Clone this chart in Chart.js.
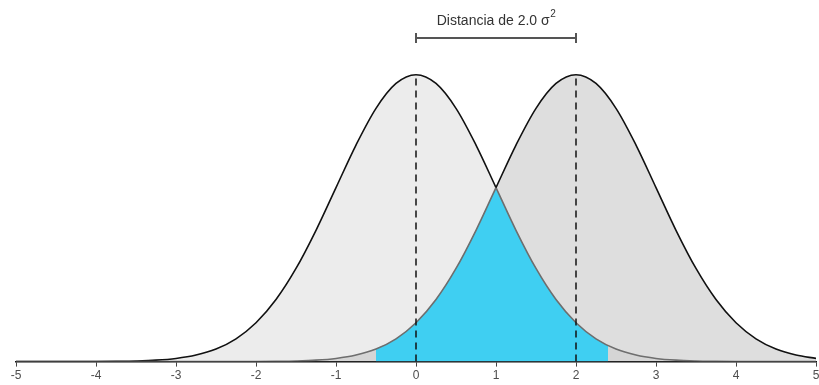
<!DOCTYPE html>
<html>
<head>
<meta charset="utf-8">
<script src="https://cdn.jsdelivr.net/npm/chart.js@4"></script>
<style>
  html, body { margin: 0; padding: 0; background: #fff; }
  #wrap { width: 819px; height: 385px; position: relative; }
</style>
</head>
<body>
<div id="wrap"><canvas id="chart"></canvas></div>
<script>
// x positions of the sampled curves
const xValues = [-5, -4.75, -4.5, -4.25, -4, -3.75, -3.5, -3.25, -3, -2.75, -2.5, -2.25, -2, -1.75, -1.5, -1.25, -1, -0.75, -0.5, -0.25,
  0, 0.25, 0.5, 0.75, 1, 1.25, 1.5, 1.75, 2, 2.25, 2.5, 2.75, 3, 3.25, 3.5, 3.75, 4, 4.25, 4.5, 4.75, 5];
// density of the curve centred at 0
const densityA = [0, 0, 0, 0, 0.0001, 0.0004, 0.0009, 0.0020, 0.0044, 0.0091, 0.0175, 0.0317, 0.0540, 0.0863, 0.1295, 0.1826, 0.2420, 0.3011, 0.3521, 0.3867,
  0.3989, 0.3867, 0.3521, 0.3011, 0.2420, 0.1826, 0.1295, 0.0863, 0.0540, 0.0317, 0.0175, 0.0091, 0.0044, 0.0020, 0.0009, 0.0004, 0.0001, 0, 0, 0, 0];
// density of the curve centred at 2
const densityB = [0, 0, 0, 0, 0, 0, 0, 0, 0, 0, 0, 0, 0.0001, 0.0004, 0.0009, 0.0020, 0.0044, 0.0091, 0.0175, 0.0317,
  0.0540, 0.0863, 0.1295, 0.1826, 0.2420, 0.3011, 0.3521, 0.3867, 0.3989, 0.3867, 0.3521, 0.3011, 0.2420, 0.1826, 0.1295, 0.0863, 0.0540, 0.0317, 0.0175, 0.0091, 0.0044];
// shaded overlap (blue) split at the crossing point
const overlapLeftX = [-0.5, -0.25, 0, 0.25, 0.5, 0.75, 1];
const overlapLeftY = [0.0175, 0.0317, 0.0540, 0.0863, 0.1295, 0.1826, 0.2420];
const overlapRightX = [1, 1.25, 1.5, 1.75, 2, 2.25, 2.4];
const overlapRightY = [0.2420, 0.1826, 0.1295, 0.0863, 0.0540, 0.0317, 0.0224];
// means and peak height
const means = [0, 2];
const peakHeight = 0.3989;
const crossing = 1;
const tickValues = [-5, -4, -3, -2, -1, 0, 1, 2, 3, 4, 5];
const distanceLabel = 'Distancia de 2.0 \u03c3';

const BLACK = '#111111';
const GREY_LINE = '#6e6e6e';
const BLUE = '#3fcff2';

function pts(xs, ys){ return xs.map((x, i) => ({x: x, y: ys[i]})); }

const curveA = pts(xValues, densityA);
const curveB = pts(xValues, densityB);

const smooth = { cubicInterpolationMode: 'monotone', pointRadius: 0, tension: 0.4 };

// bracket + title above the two means
const bracketPlugin = {
  id: 'bracket',
  afterDraw(chart){
    const ctx = chart.ctx;
    const xs = chart.scales.x;
    const x0 = xs.getPixelForValue(means[0]);
    const x1 = xs.getPixelForValue(means[1]);
    const y = 38;
    ctx.save();
    ctx.strokeStyle = '#555';
    ctx.lineWidth = 2;
    ctx.beginPath();
    ctx.moveTo(x0, y); ctx.lineTo(x1, y);
    ctx.moveTo(x0, y - 5); ctx.lineTo(x0, y + 5);
    ctx.moveTo(x1, y - 5); ctx.lineTo(x1, y + 5);
    ctx.stroke();

    ctx.fillStyle = '#333';
    ctx.font = '14px "Liberation Sans", Arial, sans-serif';
    ctx.textBaseline = 'alphabetic';
    const mainW = ctx.measureText(distanceLabel).width;
    ctx.font = '10px "Liberation Sans", Arial, sans-serif';
    const supW = ctx.measureText('2').width;
    const start = (x0 + x1) / 2 - (mainW + supW) / 2;
    ctx.font = '14px "Liberation Sans", Arial, sans-serif';
    ctx.textAlign = 'left';
    ctx.fillText(distanceLabel, start, 25);
    ctx.font = '10px "Liberation Sans", Arial, sans-serif';
    ctx.fillText('2', start + mainW + 0.5, 17);
    ctx.restore();
  }
};

new Chart(document.getElementById('chart'), {
  type: 'line',
  data: {
    datasets: [
      { data: curveA, fill: 'origin', backgroundColor: 'rgba(200,200,200,0.35)', borderWidth: 0, order: 10, ...smooth },
      { data: curveB, fill: 'origin', backgroundColor: 'rgba(190,190,190,0.5)', borderWidth: 0, order: 9, ...smooth },
      { data: pts(overlapLeftX, overlapLeftY), fill: 'origin', backgroundColor: BLUE, borderWidth: 0, order: 8, ...smooth },
      { data: pts(overlapRightX, overlapRightY), fill: 'origin', backgroundColor: BLUE, borderWidth: 0, order: 8, ...smooth },
      { data: curveA, fill: false, borderWidth: 1.6, borderColor: BLACK, order: 5, ...smooth,
        segment: { borderColor: c => c.p0.parsed.x >= crossing ? GREY_LINE : BLACK } },
      { data: curveB, fill: false, borderWidth: 1.6, borderColor: BLACK, order: 4, ...smooth,
        segment: { borderColor: c => c.p1.parsed.x <= crossing ? GREY_LINE : BLACK } },
      { data: [{x: means[0], y: 0}, {x: means[0], y: peakHeight}], fill: false, borderColor: BLACK, borderWidth: 1.5,
        borderDash: [7, 5], pointRadius: 0, order: 1 },
      { data: [{x: means[1], y: 0}, {x: means[1], y: peakHeight}], fill: false, borderColor: BLACK, borderWidth: 1.5,
        borderDash: [7, 5], pointRadius: 0, order: 1 }
    ]
  },
  options: {
    responsive: true,
    maintainAspectRatio: false,
    animation: false,
    layout: { padding: { left: 16, right: 3, top: 2, bottom: 0 } },
    plugins: { legend: { display: false }, tooltip: { enabled: false } },
    scales: {
      x: {
        type: 'linear',
        min: -5,
        max: 5,
        afterBuildTicks: s => { s.ticks = tickValues.map(v => ({value: v})); },
        afterFit: s => { s.paddingLeft = 0; s.paddingRight = 0; },
        grid: { display: true, drawOnChartArea: false, drawTicks: true, tickLength: 5, color: '#444', lineWidth: 1 },
        border: { display: true, color: '#111', width: 1.5 },
        ticks: { color: '#4d4d4d', font: { family: '"Liberation Sans", Arial, sans-serif', size: 12 }, padding: 2, maxRotation: 0 }
      },
      y: { display: false, min: 0, max: 0.5 }
    }
  },
  plugins: [bracketPlugin]
});
</script>
</body>
</html>
